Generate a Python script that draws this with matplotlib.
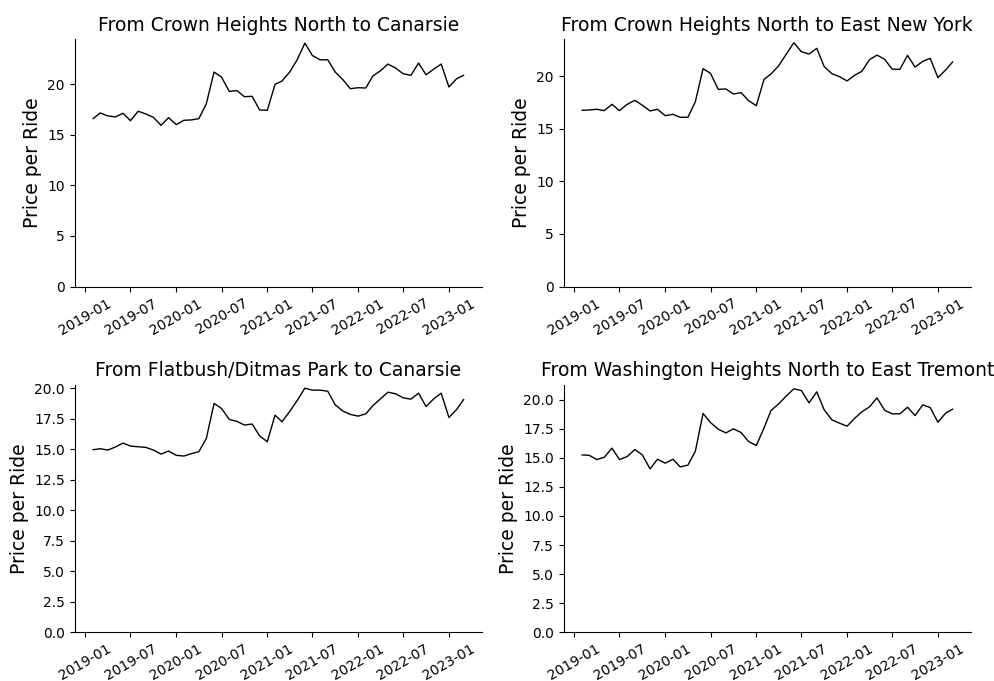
import matplotlib
matplotlib.use("Agg")
import matplotlib.pyplot as plt
import matplotlib.dates as mdates
from matplotlib.ticker import MultipleLocator
import numpy as np
import pandas as pd

# Monthly average price per ride, Feb 2019 - Mar 2023
months = pd.date_range("2019-02-01", "2023-03-01", freq="MS")

titles = [
    "From Crown Heights North to Canarsie",
    "From Crown Heights North to East New York",
    "From Flatbush/Ditmas Park to Canarsie",
    "From Washington Heights North to East Tremont",
]

crown_heights_canarsie = [
    16.61, 17.17, 16.88, 16.78, 17.14, 16.41, 17.34, 17.07, 16.74, 15.95,
    16.71, 16.02, 16.45, 16.48, 16.61, 18.09, 21.22, 20.72, 19.31, 19.38,
    18.78, 18.82, 17.47, 17.43, 20.00, 20.33, 21.22, 22.43, 24.08, 22.86,
    22.43, 22.43, 21.22, 20.46, 19.57, 19.67, 19.64, 20.82, 21.35, 22.01,
    21.61, 21.05, 20.89, 22.11, 20.95, 21.51, 22.01, 19.74, 20.56, 20.89,
]

crown_heights_east_ny = [
    16.74, 16.77, 16.84, 16.71, 17.31, 16.71, 17.31, 17.69, 17.22, 16.68,
    16.84, 16.23, 16.36, 16.08, 16.08, 17.56, 20.70, 20.25, 18.73, 18.77,
    18.29, 18.42, 17.66, 17.18, 19.68, 20.19, 20.98, 22.06, 23.16, 22.31,
    22.09, 22.63, 20.89, 20.22, 19.94, 19.53, 20.09, 20.44, 21.55, 21.99,
    21.58, 20.66, 20.63, 21.96, 20.85, 21.39, 21.68, 19.84, 20.57, 21.33,
]

flatbush_canarsie = [
    14.96, 15.04, 14.93, 15.18, 15.50, 15.26, 15.20, 15.15, 14.93, 14.60,
    14.85, 14.50, 14.44, 14.63, 14.80, 15.89, 18.75, 18.34, 17.44, 17.28,
    16.98, 17.06, 16.10, 15.61, 17.79, 17.25, 18.09, 18.99, 20.00, 19.84,
    19.84, 19.75, 18.64, 18.12, 17.85, 17.71, 17.90, 18.56, 19.13, 19.67,
    19.54, 19.21, 19.10, 19.59, 18.50, 19.13, 19.59, 17.60, 18.26, 19.07,
]

washington_heights_tremont = [
    15.24, 15.21, 14.84, 15.04, 15.82, 14.84, 15.10, 15.70, 15.24, 14.04,
    14.87, 14.53, 14.87, 14.21, 14.36, 15.56, 18.80, 18.02, 17.45, 17.13,
    17.48, 17.16, 16.39, 16.05, 17.56, 19.05, 19.63, 20.29, 20.92, 20.77,
    19.71, 20.66, 19.11, 18.25, 17.97, 17.71, 18.40, 18.94, 19.37, 20.14,
    19.08, 18.77, 18.77, 19.34, 18.62, 19.54, 19.31, 18.05, 18.83, 19.17,
]

series = [
    crown_heights_canarsie,
    crown_heights_east_ny,
    flatbush_canarsie,
    washington_heights_tremont,
]

fig, axes = plt.subplots(2, 2, figsize=(9.95, 6.81), dpi=100)
fig.subplots_adjust(left=0.075, right=0.976, top=0.9427, bottom=0.0715,
                    wspace=0.2, hspace=0.397)

for i, (ax, title, values) in enumerate(zip(axes.flat, titles, series)):
    ax.plot(months, values, color="black", linewidth=1.0)
    ax.set_ylim(bottom=0)
    ax.set_title(title, fontsize=13.5)
    ax.set_ylabel("Price per Ride", fontsize=13.5)
    if i >= 2:
        ax.yaxis.set_major_locator(MultipleLocator(2.5))
    ax.xaxis.set_major_locator(mdates.MonthLocator(bymonth=[1, 7]))
    ax.xaxis.set_major_formatter(mdates.DateFormatter("%Y-%m"))
    ax.tick_params(axis="x", labelrotation=30)
    ax.spines["top"].set_visible(False)
    ax.spines["right"].set_visible(False)

fig.savefig("out.png", dpi=100)
